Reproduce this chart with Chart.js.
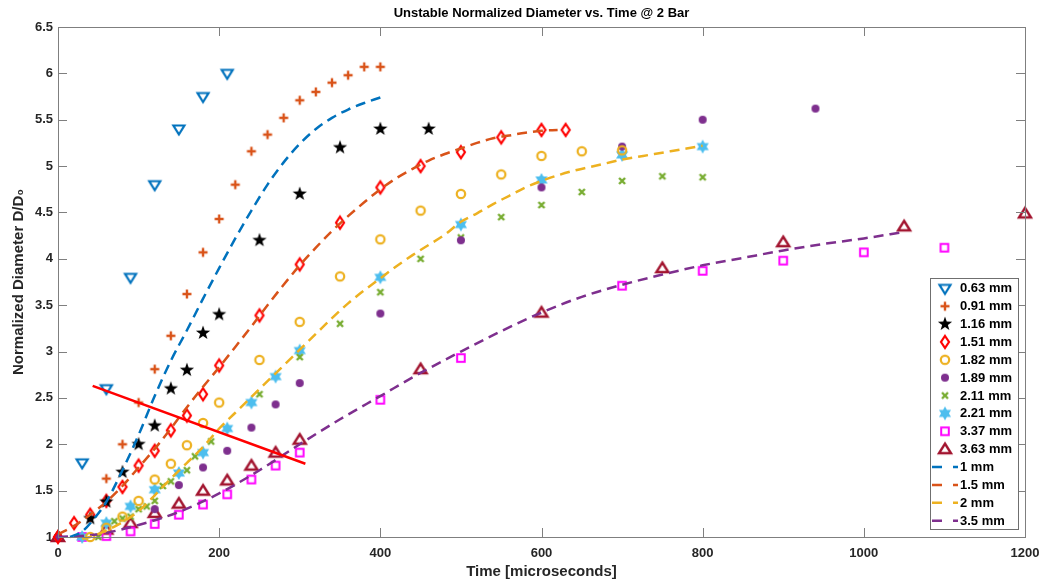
<!DOCTYPE html>
<html>
<head>
<meta charset="utf-8">
<script src="https://cdn.jsdelivr.net/npm/chart.js@4.4.1/dist/chart.umd.min.js"></script>
<style>
  html, body { margin: 0; padding: 0; background: #ffffff; }
  #wrap { width: 1041px; height: 579px; }
</style>
</head>
<body>
<div id="wrap"><canvas id="c" width="1041" height="579"></canvas></div>
<script>
// ---- measured bubble diameters: time [µs] and normalized diameter D/D0 ----
const t063 = [30, 60, 90, 120, 150, 180, 210];
const d063 = [1.8, 2.6, 3.8, 4.8, 5.4, 5.75, 6.0];

const t091 = [60, 80, 100, 120, 140, 160, 180, 200, 220, 240, 260, 280, 300, 320, 340, 360, 380, 400];
const d091 = [1.63, 2.0, 2.45, 2.81, 3.17, 3.62, 4.07, 4.43, 4.8, 5.16, 5.34, 5.52, 5.71, 5.8, 5.9, 5.98, 6.07, 6.07];

const t116 = [40, 60, 80, 100, 120, 140, 160, 180, 200, 250, 300, 350, 400, 460];
const d116 = [1.2, 1.38, 1.7, 2.0, 2.2, 2.6, 2.8, 3.2, 3.4, 4.2, 4.7, 5.2, 5.4, 5.4];

const t151 = [0, 20, 40, 60, 80, 100, 120, 140, 160, 180, 200, 250, 300, 350, 400, 450, 500, 550, 600, 630];
const d151 = [1.0, 1.15, 1.24, 1.39, 1.54, 1.77, 1.93, 2.15, 2.31, 2.54, 2.85, 3.39, 3.94, 4.39, 4.77, 5.0, 5.15, 5.31, 5.39, 5.39];

const t182 = [40, 60, 80, 100, 120, 140, 160, 180, 200, 250, 300, 350, 400, 450, 500, 550, 600, 650, 700];
const d182 = [1.0, 1.1, 1.22, 1.39, 1.62, 1.79, 1.99, 2.23, 2.45, 2.91, 3.32, 3.81, 4.21, 4.52, 4.7, 4.91, 5.11, 5.16, 5.17];

const t189 = [0, 120, 150, 180, 210, 240, 270, 300, 400, 500, 600, 700, 800, 940];
const d189 = [1.0, 1.3, 1.56, 1.75, 1.93, 2.18, 2.43, 2.66, 3.41, 4.2, 4.77, 5.21, 5.5, 5.62];

const t211 = [0, 50, 70, 80, 90, 100, 110, 120, 130, 140, 160, 170, 190, 250, 300, 350, 400, 450, 500, 550, 600, 650, 700, 750, 800];
const d211 = [1.0, 1.0, 1.17, 1.2, 1.22, 1.3, 1.33, 1.39, 1.55, 1.6, 1.72, 1.87, 2.03, 2.54, 2.94, 3.3, 3.64, 4.0, 4.23, 4.45, 4.58, 4.72, 4.84, 4.89, 4.88];

const t221 = [30, 60, 90, 120, 150, 180, 210, 240, 270, 300, 400, 500, 600, 700, 800];
const d221 = [1.0, 1.15, 1.33, 1.51, 1.69, 1.91, 2.17, 2.45, 2.73, 3.01, 3.8, 4.37, 4.85, 5.12, 5.21];

const t337 = [30, 60, 90, 120, 150, 180, 210, 240, 270, 300, 400, 500, 700, 800, 900, 1000, 1100];
const d337 = [1.0, 1.01, 1.06, 1.14, 1.24, 1.35, 1.46, 1.62, 1.77, 1.91, 2.48, 2.93, 3.71, 3.87, 3.98, 4.07, 4.12];

const t363 = [0, 60, 90, 120, 150, 180, 210, 240, 270, 300, 450, 600, 750, 900, 1050, 1200];
const d363 = [1.0, 1.08, 1.15, 1.26, 1.36, 1.5, 1.61, 1.77, 1.91, 2.05, 2.81, 3.42, 3.9, 4.18, 4.35, 4.49];

// ---- fitted growth curves ----
const fit1T = [15, 30, 45, 60, 80, 100, 120, 140, 160, 180, 200, 220, 240, 260, 280, 300, 320, 340, 360, 380, 400];
const fit1D = [1.0, 1.06, 1.2, 1.38, 1.72, 2.1, 2.52, 2.9, 3.23, 3.57, 3.9, 4.22, 4.52, 4.8, 5.04, 5.24, 5.4, 5.52, 5.61, 5.68, 5.74];

const fit15T = [0, 20, 40, 60, 80, 100, 120, 140, 160, 180, 200, 220, 240, 260, 280, 300, 320, 340, 360, 380, 400, 420, 440, 460, 480, 500, 520, 540, 560, 580, 600, 620];
const fit15D = [1.03, 1.12, 1.24, 1.38, 1.55, 1.75, 1.95, 2.17, 2.4, 2.62, 2.83, 3.05, 3.27, 3.5, 3.72, 3.93, 4.12, 4.3, 4.46, 4.61, 4.75, 4.87, 4.97, 5.06, 5.13, 5.19, 5.25, 5.3, 5.33, 5.36, 5.38, 5.39];

const fit2T = [30, 40, 60, 80, 100, 120, 140, 160, 180, 200, 220, 240, 260, 280, 300, 320, 340, 360, 380, 400, 420, 440, 460, 480, 500, 520, 540, 560, 580, 600, 620, 640, 660, 680, 700, 720, 740, 760, 780, 800];
const fit2D = [0.98, 1.0, 1.07, 1.16, 1.28, 1.45, 1.63, 1.8, 1.97, 2.17, 2.34, 2.51, 2.68, 2.85, 3.02, 3.19, 3.36, 3.52, 3.66, 3.79, 3.92, 4.04, 4.15, 4.26, 4.4, 4.49, 4.59, 4.68, 4.77, 4.84, 4.9, 4.95, 4.99, 5.03, 5.07, 5.1, 5.13, 5.16, 5.19, 5.22];

const fit35T = [0, 50, 100, 150, 200, 250, 300, 350, 400, 450, 500, 550, 600, 650, 700, 750, 800, 850, 900, 950, 1000, 1050];
const fit35D = [1.0, 1.03, 1.13, 1.27, 1.47, 1.72, 2.0, 2.27, 2.52, 2.77, 3.0, 3.22, 3.42, 3.59, 3.72, 3.83, 3.93, 4.01, 4.09, 4.16, 4.22, 4.29];

// ---- straight red reference line ----
const refT = [43, 307];
const refD = [2.63, 1.79];

// ---- axis ticks ----
const xTickValues = [0, 200, 400, 600, 800, 1000, 1200];
const yTickValues = [1, 1.5, 2, 2.5, 3, 3.5, 4, 4.5, 5, 5.5, 6, 6.5];

const FONT = "'Liberation Sans', Arial, Helvetica, sans-serif";
const C = {
  blue: '#0072BD', orange: '#D95319', yellow: '#EDB120', purple: '#7E2F8E',
  green: '#77AC30', cyan: '#4DBEEE', maroon: '#A2142F', red: '#FF0000',
  magenta: '#FF00FF', black: '#000000'
};

// ---- marker glyphs drawn onto small canvases ----
function glyph(size, draw) {
  const c = document.createElement('canvas');
  c.width = size; c.height = size;
  const g = c.getContext('2d');
  g.translate(size / 2, size / 2);
  draw(g);
  return c;
}
function starPath(g, n, ro, ri, rot) {
  g.beginPath();
  for (let i = 0; i < 2 * n; i++) {
    const r = i % 2 === 0 ? ro : ri;
    const a = rot + i * Math.PI / n;
    const px = r * Math.cos(a), py = r * Math.sin(a);
    if (i === 0) g.moveTo(px, py); else g.lineTo(px, py);
  }
  g.closePath();
}
const M = {
  triDown: glyph(18, g => {
    g.strokeStyle = C.blue; g.lineWidth = 2.2; g.lineJoin = 'miter';
    g.beginPath(); g.moveTo(-5.5, -3.5); g.lineTo(5.5, -3.5); g.lineTo(0, 5.5); g.closePath(); g.stroke();
  }),
  plus: glyph(14, g => {
    g.strokeStyle = C.orange; g.lineWidth = 2.4;
    g.beginPath(); g.moveTo(-4.5, 0); g.lineTo(4.5, 0); g.moveTo(0, -4.5); g.lineTo(0, 4.5); g.stroke();
  }),
  pentagram: glyph(20, g => {
    g.fillStyle = C.black;
    starPath(g, 5, 7.5, 3.0, -Math.PI / 2); g.fill();
  }),
  diamond: glyph(18, g => {
    g.strokeStyle = C.red; g.lineWidth = 2.2;
    g.beginPath(); g.moveTo(0, -6); g.lineTo(4, 0); g.lineTo(0, 6); g.lineTo(-4, 0); g.closePath(); g.stroke();
  }),
  ring: glyph(14, g => {
    g.strokeStyle = C.yellow; g.lineWidth = 2.2;
    g.beginPath(); g.arc(0, 0, 4.2, 0, Math.PI * 2); g.stroke();
  }),
  dot: glyph(12, g => {
    g.fillStyle = C.purple;
    g.beginPath(); g.arc(0, 0, 4, 0, Math.PI * 2); g.fill();
  }),
  cross: glyph(12, g => {
    g.strokeStyle = C.green; g.lineWidth = 2.4;
    g.beginPath(); g.moveTo(-3, -3); g.lineTo(3, 3); g.moveTo(3, -3); g.lineTo(-3, 3); g.stroke();
  }),
  hexagram: glyph(18, g => {
    g.fillStyle = C.cyan;
    starPath(g, 6, 7, 3.9, -Math.PI / 2); g.fill();
  }),
  square: glyph(14, g => {
    g.strokeStyle = C.magenta; g.lineWidth = 2;
    g.strokeRect(-3.8, -3.8, 7.6, 7.6);
  }),
  triUp: glyph(18, g => {
    g.strokeStyle = C.maroon; g.lineWidth = 2.4; g.lineJoin = 'miter';
    g.beginPath(); g.moveTo(0, -5.5); g.lineTo(6, 4); g.lineTo(-6, 4); g.closePath(); g.stroke();
  })
};

function pts(t, d) { return t.map((v, i) => ({ x: v, y: d[i] })); }

function markerSet(label, t, d, img) {
  return {
    label, data: pts(t, d), pointStyle: img, pointRadius: 6, pointHoverRadius: 6,
    showLine: false, clip: false, order: 10, legendKind: 'marker'
  };
}
function fitSet(label, t, d, color) {
  return {
    label, data: pts(t, d), showLine: true, borderColor: color, borderWidth: 2.5,
    borderDash: [10, 6], pointRadius: 0, cubicInterpolationMode: 'monotone',
    clip: false, order: 5, legendKind: 'line'
  };
}

const datasets = [
  markerSet('0.63 mm', t063, d063, M.triDown),
  markerSet('0.91 mm', t091, d091, M.plus),
  markerSet('1.16 mm', t116, d116, M.pentagram),
  markerSet('1.51 mm', t151, d151, M.diamond),
  markerSet('1.82 mm', t182, d182, M.ring),
  markerSet('1.89 mm', t189, d189, M.dot),
  markerSet('2.11 mm', t211, d211, M.cross),
  markerSet('2.21 mm', t221, d221, M.hexagram),
  markerSet('3.37 mm', t337, d337, M.square),
  markerSet('3.63 mm', t363, d363, M.triUp),
  fitSet('1 mm', fit1T, fit1D, C.blue),
  fitSet('1.5 mm', fit15T, fit15D, C.orange),
  fitSet('2 mm', fit2T, fit2D, C.yellow),
  fitSet('3.5 mm', fit35T, fit35D, C.purple),
  {
    label: '', data: pts(refT, refD), showLine: true, borderColor: C.red, borderWidth: 2.5,
    pointRadius: 0, clip: false, order: 1, legendKind: 'none'
  }
];

// axes box with inward tick marks, then the boxed legend
const framePlugin = {
  id: 'frameAndLegend',
  afterDatasetsDraw(chart) {
    const ctx = chart.ctx, a = chart.chartArea;
    const xs = chart.scales.x, ys = chart.scales.y;
    ctx.save();
    ctx.strokeStyle = '#7f7f7f';
    ctx.lineWidth = 1;
    ctx.strokeRect(Math.round(a.left) + 0.5, Math.round(a.top) + 0.5,
                   Math.round(a.right - a.left), Math.round(a.bottom - a.top));
    const tl = 9;
    ctx.beginPath();
    xs.ticks.forEach(tk => {
      const px = Math.round(xs.getPixelForValue(tk.value)) + 0.5;
      ctx.moveTo(px, a.bottom); ctx.lineTo(px, a.bottom - tl);
      ctx.moveTo(px, a.top); ctx.lineTo(px, a.top + tl);
    });
    ys.ticks.forEach(tk => {
      const py = Math.round(ys.getPixelForValue(tk.value)) + 0.5;
      ctx.moveTo(a.left, py); ctx.lineTo(a.left + tl, py);
      ctx.moveTo(a.right, py); ctx.lineTo(a.right - tl, py);
    });
    ctx.stroke();

    // legend
    const items = chart.data.datasets.filter(d => d.legendKind !== 'none');
    const rowH = 17.87;
    const boxW = 88;
    const boxH = items.length * rowH + 1;
    const right = a.right - 7, bottom = a.bottom - 8;
    const left = right - boxW, top = bottom - boxH;
    ctx.fillStyle = '#ffffff';
    ctx.fillRect(left, top, boxW, boxH);
    ctx.strokeStyle = '#6f6f6f';
    ctx.lineWidth = 1;
    ctx.strokeRect(Math.round(left) + 0.5, Math.round(top) + 0.5, Math.round(boxW), Math.round(boxH));
    ctx.font = 'bold 13px ' + FONT;
    ctx.textBaseline = 'middle';
    ctx.textAlign = 'left';
    items.forEach((d, i) => {
      const cy = top + 10.5 + i * rowH;
      if (d.legendKind === 'marker') {
        const img = d.pointStyle;
        ctx.drawImage(img, left + 15 - img.width / 2, cy - img.height / 2);
      } else {
        ctx.save();
        ctx.strokeStyle = d.borderColor;
        ctx.lineWidth = 2.5;
        ctx.setLineDash([10, 11]);
        ctx.beginPath(); ctx.moveTo(left + 2, cy); ctx.lineTo(left + 28, cy); ctx.stroke();
        ctx.restore();
      }
      ctx.fillStyle = '#000000';
      ctx.fillText(d.label, left + 30, cy + 0.5);
    });
    ctx.restore();
  }
};

new Chart(document.getElementById('c'), {
  type: 'scatter',
  data: { datasets },
  plugins: [framePlugin],
  options: {
    responsive: false,
    devicePixelRatio: 1,
    animation: false,
    layout: { padding: 0 },
    plugins: {
      legend: { display: false },
      tooltip: { enabled: false },
      title: {
        display: true,
        fullSize: false,
        text: 'Unstable Normalized Diameter vs. Time @ 2 Bar',
        color: '#000000',
        font: { family: FONT, size: 13, weight: 'bold', lineHeight: 1.2 },
        padding: { top: 6, bottom: 5.4 }
      }
    },
    scales: {
      x: {
        type: 'linear', min: 0, max: 1200,
        afterBuildTicks: s => { s.ticks = xTickValues.map(v => ({ value: v })); },
        afterFit: s => { s.height = 42; s.paddingLeft = 0; s.paddingRight = 16; },
        grid: { display: false, drawTicks: false },
        border: { display: false },
        ticks: {
          padding: 9, color: '#262626', maxRotation: 0,
          font: { family: FONT, size: 13, weight: 'bold' },
          callback: v => String(v)
        },
        title: {
          display: true, text: 'Time [microseconds]', color: '#262626',
          font: { family: FONT, size: 15, weight: 'bold', lineHeight: 1.2 },
          padding: { top: 0, bottom: -2 }
        }
      },
      y: {
        type: 'linear', min: 1, max: 6.5,
        afterBuildTicks: s => { s.ticks = yTickValues.map(v => ({ value: v })); },
        afterFit: s => { s.width = 58; s.paddingTop = 0; s.paddingBottom = 0; },
        grid: { display: false, drawTicks: false },
        border: { display: false },
        ticks: {
          padding: 5, color: '#262626',
          font: { family: FONT, size: 13, weight: 'bold' },
          callback: v => String(v)
        },
        title: {
          display: true, text: 'Normalized Diameter D/D\u2080', color: '#262626',
          font: { family: FONT, size: 15, weight: 'bold', lineHeight: 1.2 },
          padding: { top: 10, bottom: 0 }
        }
      }
    }
  }
});
</script>
</body>
</html>
